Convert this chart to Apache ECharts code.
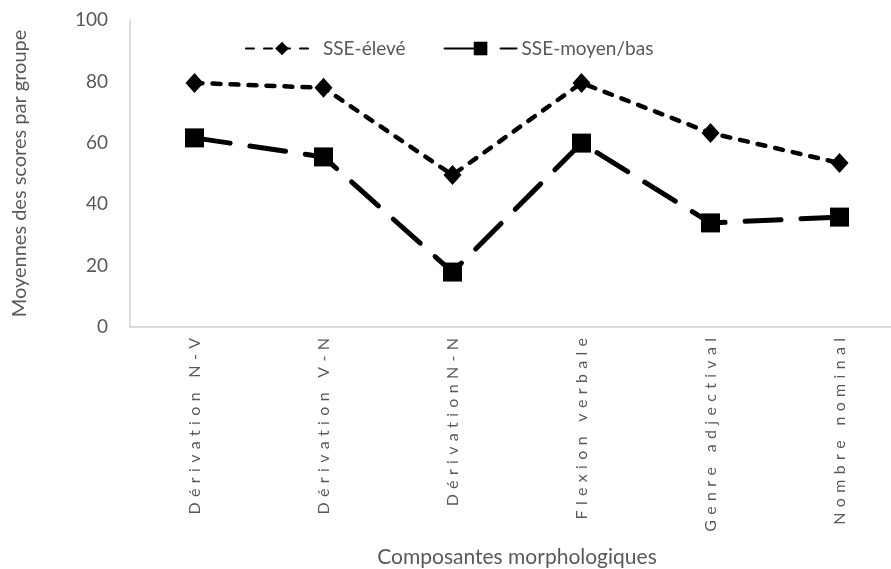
<!DOCTYPE html>
<html>
<head>
<meta charset="utf-8">
<script src="https://cdn.jsdelivr.net/npm/echarts@6/dist/echarts.min.js"></script>
<style>
  html, body { margin: 0; padding: 0; background: #fff; }
  #chart { width: 891px; height: 569px; }
</style>
</head>
<body>
<div id="chart"></div>
<script>
// Morphological components on the category axis
const categories = ['Dérivation N-V', 'Dérivation V-N', 'DérivationN-N', 'Flexion verbale', 'Genre adjectival', 'Nombre nominal'];
// Mean scores per group
const sseEleve = [79.5, 77.9, 49.5, 79.5, 63.2, 53.4];
const sseMoyenBas = [61.6, 55.4, 17.9, 59.9, 33.9, 35.8];
const seriesNames = ['SSE-élevé', 'SSE-moyen/bas'];
const yTicks = { min: 0, max: 100, interval: 20 };

const FONT = 'Lato';
const GREY = '#595959';
const AXIS_GREY = '#d0d0d0';

// spread letters of the rotated category labels
const spread = s => Array.from(s).join('\u2004');

const chart = echarts.init(document.getElementById('chart'), null, { renderer: 'canvas' });
chart.setOption({
  animation: false,
  backgroundColor: '#ffffff',
  textStyle: { fontFamily: FONT },
  grid: { left: 130, top: 20, right: -13, bottom: 242, outerBoundsMode: 'none', containLabel: false },
  legend: {
    top: 34,
    left: 240,
    itemWidth: 72,
    itemHeight: 17,
    itemGap: 38,
    textStyle: { fontFamily: FONT, fontSize: 19, color: GREY },
    data: seriesNames
  },
  xAxis: {
    type: 'category',
    data: categories,
    boundaryGap: true,
    axisTick: { show: false },
    axisLine: { lineStyle: { color: AXIS_GREY, width: 1.5 } },
    axisLabel: {
      rotate: 90,
      margin: 11,
      interval: 0,
      fontFamily: FONT,
      fontSize: 16,
      color: GREY,
      formatter: spread
    },
    name: 'Composantes morphologiques',
    nameLocation: 'middle',
    nameGap: 220,
    nameTextStyle: { fontFamily: FONT, fontSize: 21, color: GREY }
  },
  yAxis: {
    type: 'value',
    min: yTicks.min,
    max: yTicks.max,
    interval: yTicks.interval,
    splitLine: { show: false },
    axisTick: { show: false },
    axisLine: { show: true, lineStyle: { color: AXIS_GREY, width: 1.5 } },
    axisLabel: { fontFamily: FONT, fontSize: 19, color: GREY, margin: 22 },
    name: 'Moyennes des scores par groupe',
    nameLocation: 'middle',
    nameGap: 100,
    nameTextStyle: { fontFamily: FONT, fontSize: 20, color: GREY }
  },
  series: [
    {
      name: seriesNames[0],
      type: 'line',
      data: sseEleve,
      symbol: 'diamond',
      symbolSize: [18, 20],
      itemStyle: { color: '#000' },
      lineStyle: { color: '#000', width: 4.5, type: [8, 10], cap: 'round' }
    },
    {
      name: seriesNames[1],
      type: 'line',
      data: sseMoyenBas,
      symbol: 'rect',
      symbolSize: 19,
      itemStyle: { color: '#000' },
      lineStyle: { color: '#000', width: 5, type: [36, 20], cap: 'round' }
    }
  ]
});
</script>
</body>
</html>
